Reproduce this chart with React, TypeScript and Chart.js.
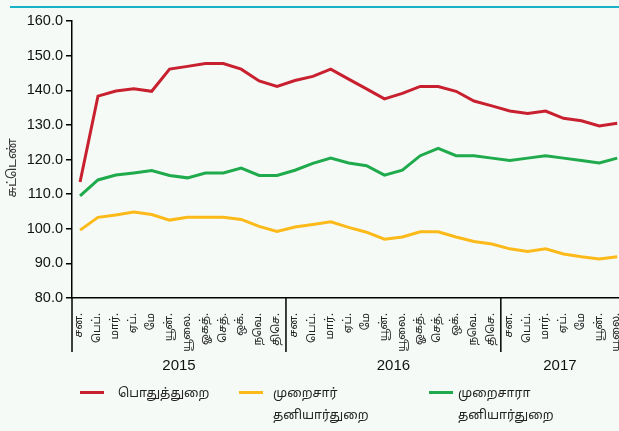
import React, { useEffect, useRef } from 'react';
import { Chart, registerables } from 'chart.js';

Chart.register(...registerables);

// ---- data ----
const monthLabels = ['சன.', 'பெப்.', 'மார்.', 'ஏப்.', 'மே', 'யூன்.', 'யூலை.', 'ஓகத்.', 'செத்.', 'ஒக்.', 'நவெ.', 'திசெ.'];
const years = ['2015', '2016', '2017'];
const monthsPerYear = [12, 12, 7];
const categories: string[] = years.flatMap((_, yi) => monthLabels.slice(0, monthsPerYear[yi]));

const yMin = 80;
const yMax = 160;
const yStep = 10;
const yAxisTitle = 'சுட்டெண்';

const publicSector = [113.5, 138.3, 139.8, 140.4, 139.7, 146.1, 146.9, 147.7, 147.7, 146.1, 142.7, 141.1,
  142.8, 144.0, 146.1, 143.2, 140.4, 137.5, 139.1, 141.1, 141.1, 139.7, 136.9, 135.5,
  134.0, 133.3, 134.0, 131.9, 131.2, 129.7, 130.5];
const formalPrivate = [99.6, 103.3, 104.0, 104.8, 104.1, 102.5, 103.3, 103.3, 103.3, 102.7, 100.7, 99.2,
  100.5, 101.2, 102.0, 100.4, 99.0, 97.0, 97.6, 99.1, 99.1, 97.6, 96.3, 95.6,
  94.2, 93.4, 94.2, 92.7, 91.9, 91.3, 91.9];
const informalPrivate = [109.5, 114.1, 115.5, 116.1, 116.8, 115.4, 114.7, 116.1, 116.1, 117.5, 115.4, 115.4,
  116.9, 118.9, 120.4, 119.0, 118.2, 115.5, 116.9, 121.1, 123.2, 121.1, 121.1, 120.4,
  119.7, 120.4, 121.1, 120.4, 119.7, 119.0, 120.4];

const seriesNames: string[][] = [['பொதுத்துறை'], ['முறைசார்', 'தனியார்துறை'], ['முறைசாரா', 'தனியார்துறை']];

// ---- styles ----
const colors = ['#C8202F', '#FBBA1A', '#1FAA4C'];
const BG = '#F5FAF7';
const tamilFont = '"Noto Sans Tamil", "Lohit Tamil", "Latha", "Noto Sans", sans-serif';
const latinFont = '"Liberation Sans", Arial, sans-serif';

const extrasPlugin = {
  id: 'extras',
  afterDraw(chart: any) {
    const { ctx, chartArea, scales } = chart;
    const x = scales.x;
    ctx.save();
    ctx.strokeStyle = '#000';
    ctx.lineWidth = 1.5;
    const bottomY = 352;
    const bounds: number[] = [chartArea.left];
    let cum = 0;
    for (let i = 0; i < monthsPerYear.length - 1; i++) {
      cum += monthsPerYear[i];
      bounds.push(x.getPixelForValue(cum - 0.5));
    }
    bounds.push(chartArea.right);
    for (let i = 0; i < bounds.length - 1; i++) {
      ctx.beginPath();
      ctx.moveTo(bounds[i], chartArea.bottom);
      ctx.lineTo(bounds[i], bottomY);
      ctx.stroke();
    }
    ctx.fillStyle = '#111';
    ctx.font = `15px ${latinFont}`;
    ctx.textAlign = 'center';
    ctx.textBaseline = 'middle';
    years.forEach((yr, i) => {
      ctx.fillText(yr, (bounds[i] + bounds[i + 1]) / 2, 366);
    });
    ctx.translate(13, 168);
    ctx.rotate(-Math.PI / 2);
    ctx.font = `12.5px ${tamilFont}`;
    ctx.fillStyle = '#333';
    ctx.fillText(yAxisTitle, 0, 0);
    ctx.restore();
  },
};

export default function App() {
  const canvasRef = useRef<HTMLCanvasElement | null>(null);

  useEffect(() => {
    if (!canvasRef.current) return;
    const datasets = [publicSector, formalPrivate, informalPrivate].map((vals, i) => ({
      label: seriesNames[i].join(' '),
      data: vals.map((v, idx) => ({ x: idx, y: v })),
      borderColor: colors[i],
      backgroundColor: colors[i],
      borderWidth: 3,
      pointRadius: 0,
      tension: 0,
      fill: false,
    }));
    const chart = new Chart(canvasRef.current, {
      type: 'line',
      data: { datasets },
      options: {
        responsive: false,
        animation: false,
        layout: { padding: { top: 21, left: 0, right: 0, bottom: 0 } },
        plugins: { legend: { display: false }, tooltip: { enabled: false } },
        scales: {
          x: {
            type: 'linear',
            min: -0.45,
            max: 30.1,
            grid: { display: false },
            border: { display: true, color: '#000', width: 1.5 },
            afterBuildTicks: (scale: any) => {
              scale.ticks = categories.map((_, i) => ({ value: i }));
            },
            afterFit: (scale: any) => {
              scale.height = 133;
              scale.paddingLeft = 0;
              scale.paddingRight = 0;
            },
            ticks: {
              autoSkip: false,
              minRotation: 90,
              maxRotation: 90,
              padding: 7,
              color: '#222',
              font: { family: tamilFont, size: 11 },
              callback: (v: any) => categories[Math.round(Number(v))] ?? '',
            },
          },
          y: {
            min: yMin,
            max: yMax,
            grid: { display: true, drawOnChartArea: false, drawTicks: true, tickLength: 6, color: '#000', lineWidth: 1.5 },
            border: { display: true, color: '#000', width: 1.5 },
            afterFit: (scale: any) => {
              scale.width = 72;
              scale.paddingTop = 0;
              scale.paddingBottom = 0;
            },
            ticks: {
              stepSize: yStep,
              padding: 3,
              color: '#111',
              font: { family: latinFont, size: 14.5 },
              callback: (v: any) => Number(v).toFixed(1),
            },
          },
        },
      },
      plugins: [extrasPlugin],
    });
    return () => chart.destroy();
  }, []);

  const legendPos = [
    { line: 80, text: 118 },
    { line: 239, text: 273 },
    { line: 429, text: 458 },
  ];

  return (
    <div style={{ position: 'absolute', left: 0, top: 0, width: 619, height: 431, background: BG, overflow: 'hidden' }}>
      <div style={{ position: 'absolute', left: 10, top: 6, width: 609, height: 2, background: '#1AB2C7' }} />
      <canvas ref={canvasRef} width={619} height={431} style={{ position: 'absolute', left: 0, top: 0 }} />
      {seriesNames.map((lines, i) => (
        <React.Fragment key={i}>
          <div style={{ position: 'absolute', left: legendPos[i].line, top: 391, width: 24, height: 3, background: colors[i] }} />
          <div style={{ position: 'absolute', left: legendPos[i].text, top: 383, fontFamily: tamilFont, fontSize: 12.5, lineHeight: '22px', color: '#222', whiteSpace: 'nowrap' }}>
            {lines.map((l, j) => <div key={j}>{l}</div>)}
          </div>
        </React.Fragment>
      ))}
    </div>
  );
}
